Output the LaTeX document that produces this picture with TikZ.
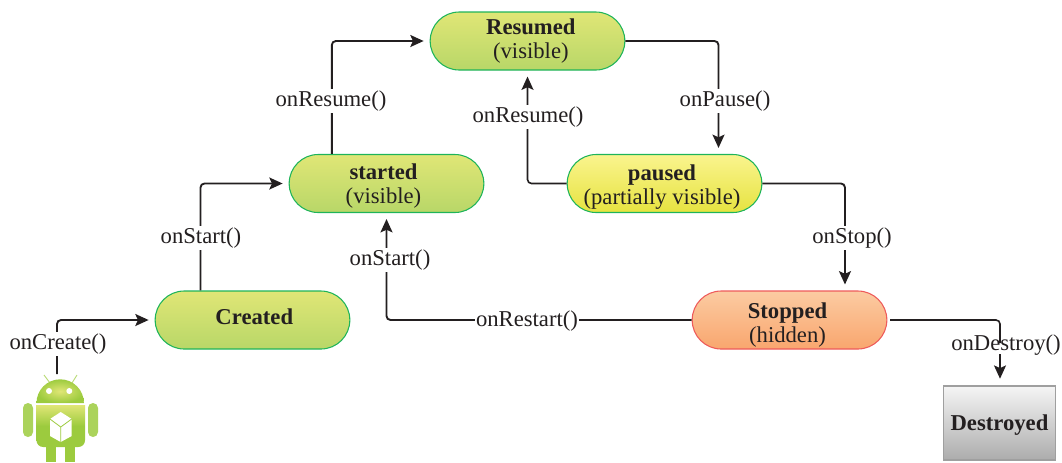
\documentclass[tikz,border=0pt]{standalone}
\usepackage{fontspec}
\setmainfont{Liberation Serif}
\usetikzlibrary{arrows.meta,shapes.misc}
\definecolor{ink}{HTML}{231F20}
\definecolor{robot}{HTML}{9CCB3E}
\definecolor{limetop}{HTML}{E0E676}
\definecolor{limebottom}{HTML}{B8D768}
\definecolor{yellowtop}{HTML}{FAF48E}
\definecolor{yellowbottom}{HTML}{E6E340}
\definecolor{orangetop}{HTML}{FBCBA2}
\definecolor{orangebottom}{HTML}{F9A66E}
\definecolor{stateedge}{HTML}{1EB45A}
\definecolor{stopedge}{HTML}{EE5A5A}
\newcommand{\statetext}[3]{\raisebox{#2}[0pt][0pt]{\makebox[0pt][l]{\hspace*{#1}\makebox[0pt]{\begin{tabular}[c]{@{}c@{}}#3\end{tabular}}}}}
\tikzset{
  lifestate/.style={rounded rectangle,draw=#1,line width=0.8pt,minimum width=146pt,minimum height=43.5pt,inner sep=0pt,text=ink,font=\fontsize{17}{18}\selectfont},
  greenstate/.style={lifestate=stateedge,top color=limetop,bottom color=limebottom},
  flow/.style={draw=ink,line width=1.4pt,rounded corners=3pt,-{Stealth[length=10pt,width=9pt,inset=2pt]},shorten >=4.5pt},
  thinflow/.style={flow,line width=1.2pt},
  plainline/.style={draw=ink,line width=1.2pt,rounded corners=3pt},
  calllabel/.style={fill=white,inner sep=1pt,text=ink,font=\fontsize{17}{18}\selectfont}
}
\begin{document}
\begin{tikzpicture}[x=0.75pt,y=-0.75pt]
    \useasboundingbox (0,0) rectangle (1062,462);
    % states
    \node[greenstate] (created) at (252.5,320) {\statetext{1.35pt}{-4.4pt}{\textbf{Created}}};
    \node[greenstate] (started) at (386.5,183.5) {\statetext{-2.25pt}{-7pt}{\textbf{started}\\(visible)}};
    \node[greenstate] (resumed) at (527.5,41) {\statetext{2.5pt}{-4.7pt}{\textbf{Resumed}\\(visible)}};
    \node[lifestate=stateedge,top color=yellowtop,bottom color=yellowbottom] (paused) at (664.5,183.5) {\statetext{-1.9pt}{-7.3pt}{\textbf{paused}\\(partially visible)}};
    \node[lifestate=stopedge,top color=orangetop,bottom color=orangebottom] (stopped) at (789.5,320) {\statetext{-1.5pt}{-8.5pt}{\textbf{Stopped}\\(hidden)}};
    \node[draw=gray!75,line width=1.4pt,top color=gray!8,bottom color=gray!65,minimum width=84pt,minimum height=56pt,inner sep=0pt,text=ink,font=\fontsize{17}{18}\selectfont] (destroyed) at (999.5,423) {\statetext{0pt}{-6.5pt}{\textbf{Destroyed}}};
    % android
    \coordinate (android) at (57,374);
    \draw[robot!70!white,line width=0.7pt] (44,375) -- (50,383) (77,375) -- (72,383);
    \shade[inner color=limetop,outer color=robot] (36.5,403) arc (180:360:23.7) -- cycle;
    \shade[top color=limetop,bottom color=robot,middle color=robot] (36.5,405) -- (85,405) [rounded corners=5pt] -- (85,447) -- (36.5,447) [sharp corners] -- cycle;
    \fill[robot!85!white,rounded corners=3.7pt] (23,403) rectangle (33,437);
    \fill[robot!85!white,rounded corners=3.7pt] (88,403) rectangle (98,437);
    \fill[robot] (46,440) rectangle (56,462);
    \fill[robot] (65,440) rectangle (75,462);
    \fill[white] (49,391) circle (3);
    \fill[white] (69.3,391) circle (3);
    \fill[white] (60.7,412) -- (71.7,419) -- (71.7,436) -- (60.7,442) -- (50,436) -- (50,419) -- cycle;
    \draw[robot,line width=0.6pt] (50,419) -- (60.7,427) -- (71.7,419) (60.7,427) -- (60.7,442);
    % connectors
    \draw[flow] (android) |- (created);
    \draw[flow] ([xshift=-39pt]created.north) |- (started);
    \draw[flow] ([xshift=-41pt]started.north) |- (resumed);
    \draw[flow] (resumed) -| ([xshift=40.5pt]paused.north);
    \draw[thinflow] (paused) -| (resumed.south);
    \draw[flow] (paused) -| ([xshift=41.6pt]stopped.north);
    \draw[flow] (stopped) -| (started.south);
    \coordinate (destroybreak) at (1000,343);
    \coordinate (destroyend) at (1000,354);
    \draw[thinflow] (destroyend) -- (destroyend |- destroyed.north);
    % labels
    \node[calllabel] (createcall) at (58,344) {onCreate()};
    \node[calllabel] (startcall) at (201,238) {onStart()};
    \node[calllabel] (resumecall) at (331,101) {onResume()};
    \node[calllabel] (backcall) at (528,117) {onResume()};
    \node[calllabel] (pausecall) at (725,101) {onPause()};
    \node[calllabel] (stopcall) at (852,238) {onStop()};
    \node[calllabel] (restartcall) at (527,321) {onRestart()};
    \node[calllabel] (restartstart) at (390,260) {onStart()};
    \node[calllabel,fill=none] (destroycall) at (1006,345) {onDestroy()};
    \draw[plainline] ([xshift=2pt]stopped.east) -| (destroybreak);
\end{tikzpicture}
\end{document}
